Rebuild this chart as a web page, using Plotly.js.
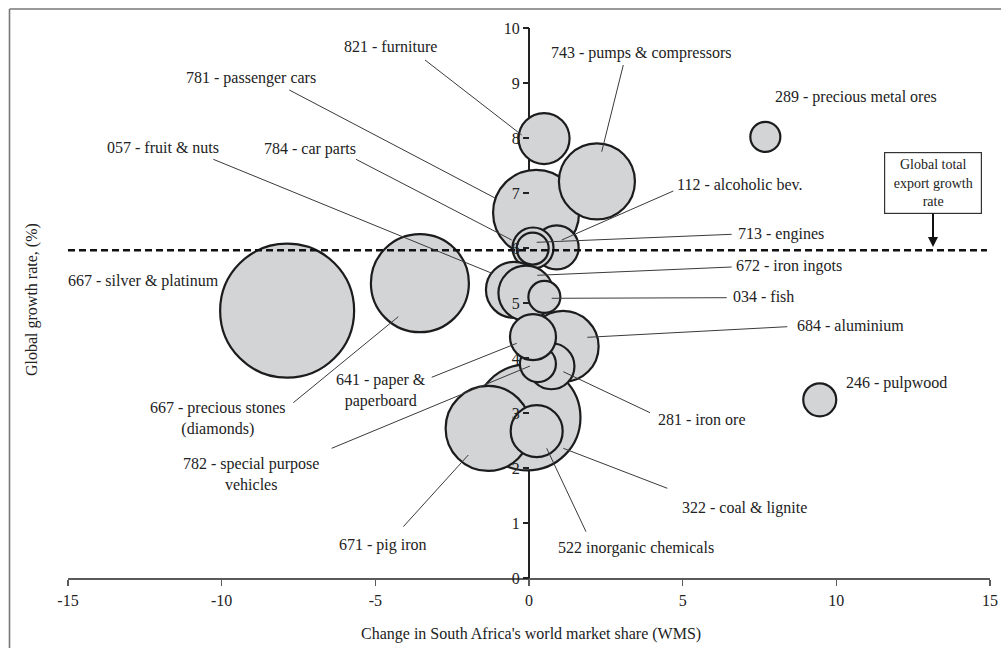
<!DOCTYPE html>
<html>
<head>
<meta charset="utf-8">
<script src="https://cdn.plot.ly/plotly-3.0.1.min.js"></script>
<style>html,body{margin:0;padding:0;background:#fff;}#chart{width:1001px;height:648px;}</style>
</head>
<body>
<div id="chart"></div>
<script>
// ---- data (draw order: back to front) ----
const products = ['667 - silver & platinum','667 - precious stones','322 - coal & lignite','671 - pig iron','522 inorganic chemicals',
  '781 - passenger cars','743 - pumps & compressors','821 - furniture','112 - alcoholic bev.','784 - car parts','713 - engines',
  '057 - fruit & nuts','672 - iron ingots','034 - fish','684 - aluminium','281 - iron ore','782 - special purpose vehicles',
  '641 - paper & paperboard','289 - precious metal ores','246 - pulpwood'];
const wmsChange = [-7.87,-3.55,-0.05,-1.33,0.25, 0.23,2.21,0.49,0.90,0.13,0.12, -0.49,-0.10,0.50,1.11,0.73,0.29, 0.13,7.69,9.46];
const growthRate = [4.86,5.36,2.92,2.72,2.67, 6.64,7.21,7.99,6.01,6.00,5.99, 5.24,5.18,5.11,4.21,3.85,3.89, 4.38,8.02,3.24];
const bubbleSize = [134,98,106,85,52, 86,76,51,44,41,32, 56,55,32,71,46,36, 46,30,33];
const globalRate = 5.96;
const xTicks = [-15,-10,-5,0,5,10,15];
const yTicks = [0,1,2,3,4,5,6,7,8,9,10];

// ---- label layout (pixel positions of text and leader lines) ----
const labels = [
 {t:'821 - furniture', c:[390,46], l:[425,60,521.7,135]},
 {t:'743 - pumps & compressors', c:[641,53], l:[623.3,65,601.7,151.7]},
 {t:'781 - passenger cars', c:[251,78], l:[289.3,90,495,198]},
 {t:'057 - fruit & nuts', c:[163,147], l:[213.3,159.3,492,273.3]},
 {t:'784 - car parts', c:[310,149], l:[356,159.3,511.7,240]},
 {t:'667 - silver & platinum', c:[143,281]},
 {t:'289 - precious metal ores', c:[856,97]},
 {t:'112 - alcoholic bev.', c:[739,184], l:[673.3,191,561.7,240]},
 {t:'713 - engines', c:[781,233.5], l:[731.7,234.3,536.7,242.3]},
 {t:'672 - iron ingots', c:[789,266], l:[731.7,267,537.3,275.3]},
 {t:'034 - fish', c:[763,296.5], l:[726.7,297.7,551.7,298.3]},
 {t:'684 - aluminium', c:[850,325], l:[787.3,326.7,587.3,337.3]},
 {t:'246 - pulpwood', c:[896,383]},
 {t:'281 - iron ore', c:[702,419], l:[650,412.7,563.3,371.7]},
 {t:'322 - coal & lignite', c:[744,508], l:[667.3,488.3,563.3,448.3]},
 {t:'522 inorganic chemicals', c:[636,547.5], l:[586,531.7,546.7,448.3]},
 {t:'671 - pig iron', c:[383,545], l:[403.3,526.7,468.3,455]},
 {t:'782 - special purpose<br>vehicles', c:[251,474], l:[331.7,448.3,530,366]},
 {t:'641 - paper &<br>paperboard', c:[381,390], l:[431.7,377.3,516.7,343.3]},
 {t:'667 - precious stones<br>(diamonds)', c:[218,418], l:[293.3,402.7,398.3,316.7]}
];

const M = {l:68, r:11, t:28, b:70};
const W = 1001, H = 648;
const pw = W - M.l - M.r, ph = H - M.t - M.b;
const px2x = p => (p - M.l) / pw * 30 - 15;
const py2y = p => (H - M.b - p) / ph * 10;
const FONT = 'Liberation Serif, Times New Roman, serif';
const TXT = '#222';

const bubbles = {
  type:'scatter', mode:'markers', x: wmsChange, y: growthRate, text: products,
  hoverinfo:'text',
  marker:{size: bubbleSize, sizemode:'diameter', color:'#d3d4d6', opacity:1,
          line:{color:'#1c1c1c', width:2.2}},
  cliponaxis:false, showlegend:false
};
const dashed = {
  type:'scatter', mode:'lines', x:[-15, 14.9], y:[globalRate, globalRate],
  line:{color:'#111', width:2.6, dash:'7px,4px'}, hoverinfo:'skip', showlegend:false
};

const annotations = labels.map(o => ({
  xref:'x', yref:'y', x: px2x(o.c[0]), y: py2y(o.c[1]), text:o.t, showarrow:false,
  xanchor:'center', yanchor:'middle', align:'center',
  font:{family:FONT, size:16, color:TXT}
}));
annotations.push({
  xref:'x', yref:'y', x: px2x(933), y: py2y(247),
  text:'Global total<br>export growth<br>rate', showarrow:true,
  ax:0, ay:-64, arrowhead:2, arrowsize:1, arrowwidth:2, arrowcolor:'#111',
  bordercolor:'#333', borderwidth:1.2, bgcolor:'#fff', width:94, height:58,
  font:{family:FONT, size:14, color:TXT}
});
annotations.push({
  xref:'paper', yref:'paper', x:(530.5 - M.l)/pw, y:(H - M.b - 634)/ph,
  text:"Change in South Africa's world market share (WMS)", showarrow:false,
  xanchor:'center', yanchor:'middle', font:{family:FONT, size:16, color:TXT}
});
annotations.push({
  xref:'paper', yref:'paper', x:(32 - M.l)/pw, y:(H - M.b - 300)/ph,
  text:'Global growth rate, (%)', showarrow:false, textangle:-90,
  xanchor:'center', yanchor:'middle', font:{family:FONT, size:16, color:TXT}
});

const shapes = labels.filter(o => o.l).map(o => ({
  type:'line', xref:'x', yref:'y', x0:px2x(o.l[0]), y0:py2y(o.l[1]), x1:px2x(o.l[2]), y1:py2y(o.l[3]),
  line:{color:'#3a3a3a', width:1}, layer:'above'
}));
// outer frame (top and left)
shapes.push({type:'line', xref:'paper', yref:'paper', x0:(9.5-M.l)/pw, x1:(1001-M.l)/pw,
  y0:(H-M.b-9)/ph, y1:(H-M.b-9)/ph, line:{color:'#777', width:1.6}});
shapes.push({type:'line', xref:'paper', yref:'paper', x0:(9.5-M.l)/pw, x1:(9.5-M.l)/pw,
  y0:(H-M.b-9)/ph, y1:(H-M.b-648)/ph, line:{color:'#777', width:1.6}});

const layout = {
  width:W, height:H, margin:M, paper_bgcolor:'#fff', plot_bgcolor:'rgba(0,0,0,0)',
  showlegend:false, hovermode:'closest',
  font:{family:FONT, size:16, color:TXT},
  xaxis:{range:[-15,15], tickvals:xTicks, ticktext:xTicks.map(String), showgrid:false,
    showline:true, linecolor:'#5a5a5a', linewidth:2.4, ticks:'outside', ticklen:6, tickwidth:1.5,
    tickcolor:'#5a5a5a', zeroline:true, zerolinecolor:'#222', zerolinewidth:1.6,
    tickfont:{family:FONT, size:16, color:TXT}, fixedrange:true},
  yaxis:{range:[0,10], tickvals:yTicks, anchor:'free', position:0.5, side:'left',
    showline:false, showgrid:false, zeroline:false, ticks:'outside', ticklen:6, tickwidth:1.3,
    tickcolor:'#222', tickfont:{family:FONT, size:16, color:TXT}, fixedrange:true},
  annotations, shapes
};

Plotly.newPlot('chart', [bubbles, dashed], layout, {displayModeBar:false, staticPlot:true});
</script>
</body>
</html>
